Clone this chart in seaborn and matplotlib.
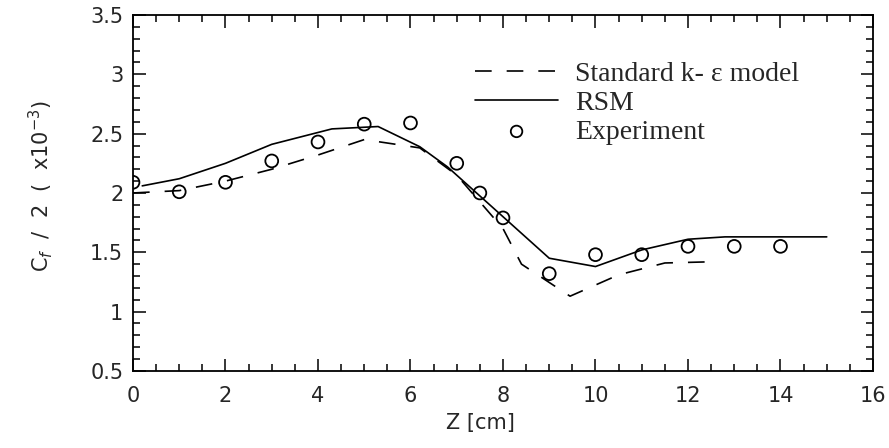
import numpy as np
import pandas as pd
import matplotlib
matplotlib.use('Agg')
import matplotlib.pyplot as plt
import seaborn as sns
from matplotlib.ticker import MultipleLocator

z_exp = [0, 1, 2, 3, 4, 5, 6, 7, 7.5, 8, 9, 10, 11, 12, 13, 14]
cf_exp = [2.09, 2.01, 2.09, 2.27, 2.43, 2.58, 2.59, 2.25, 2.00, 1.79,
          1.32, 1.48, 1.48, 1.55, 1.55, 1.55]

z_rsm = [0.2, 1, 2, 3, 4.3, 5.3, 6.2, 6.8, 8, 9, 10, 11, 12, 12.8, 15]
cf_rsm = [2.06, 2.12, 2.25, 2.41, 2.54, 2.56, 2.39, 2.22, 1.80, 1.45,
          1.38, 1.52, 1.61, 1.63, 1.63]

z_ke = [0, 1, 2, 3, 4, 5, 6.2, 7, 8, 8.4, 9.45, 10.5, 11.5, 12.5]
cf_ke = [2.00, 2.02, 2.10, 2.20, 2.32, 2.45, 2.38, 2.15, 1.70, 1.40,
         1.13, 1.31, 1.41, 1.42]

x_ticks = [0, 2, 4, 6, 8, 10, 12, 14, 16]
y_ticks = [0.5, 1, 1.5, 2, 2.5, 3, 3.5]
y_ticklabels = ['0.5', '1', '1.5', '2', '2.5', '3', '3.5']

sns.set_style('ticks')
plt.rcParams['font.family'] = ['DejaVu Sans']
plt.rcParams['mathtext.fontset'] = 'dejavusans'

fig = plt.figure(figsize=(8.89, 4.48), dpi=100)
ax = fig.add_axes([0.1496, 0.172, 0.8324, 0.7945])

sns.lineplot(x=z_ke, y=cf_ke, ax=ax, color='black', lw=1.2,
             linestyle=(0, (10, 9)), label='Standard k- \u03b5 model', sort=False)
sns.lineplot(x=z_rsm, y=cf_rsm, ax=ax, color='black', lw=1.2,
             label='RSM', sort=False)
sns.scatterplot(x=z_exp, y=cf_exp, ax=ax, marker='o', s=85,
                facecolor='none', edgecolor='black', linewidth=1.3,
                label='Experiment', zorder=3)

ax.set_xlim(0, 16)
ax.set_ylim(0.5, 3.5)
ax.set_xticks(x_ticks)
ax.set_xticklabels([str(v) for v in x_ticks])
ax.set_yticks(y_ticks)
ax.set_yticklabels(y_ticklabels)
ax.xaxis.set_minor_locator(MultipleLocator(0.5))
ax.yaxis.set_minor_locator(MultipleLocator(0.1))
ax.tick_params(which='both', direction='in', top=True, right=True,
               labelsize=15, width=1.1, color='black')
ax.tick_params(axis='x', which='major', pad=11)
ax.tick_params(axis='y', which='major', pad=7)
ax.tick_params(which='major', length=9)
ax.tick_params(which='minor', length=5)
for sp in ax.spines.values():
    sp.set_linewidth(1.3)
    sp.set_color('black')

ax.set_xlabel('Z [cm]', fontsize=15)
ax.xaxis.set_label_coords(0.47, -0.118)
ax.set_ylabel(r'C$_{f}$  /  2  (  x10$^{-3}$)', fontsize=15)
ax.yaxis.set_label_coords(-0.105, 0.52)

leg = ax.legend(loc='upper left', bbox_to_anchor=(0.447, 0.9), frameon=False,
                prop={'family': 'Liberation Serif', 'size': 20},
                handlelength=3.0, handletextpad=0.6, labelspacing=0.12,
                borderaxespad=0, markerscale=0.9)

fig.savefig('out.png', dpi=100)
